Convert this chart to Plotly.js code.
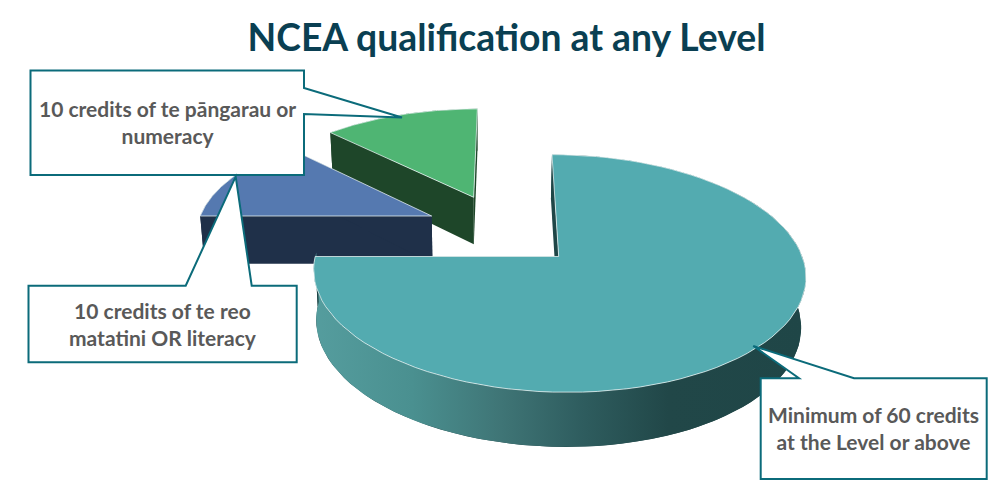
<!DOCTYPE html>
<html>
<head>
<meta charset="utf-8">
<script src="https://cdn.plot.ly/plotly-3.0.1.min.js"></script>
<style>html,body{margin:0;padding:0;background:#fff}#chart{width:1000px;height:490px}</style>
</head>
<body>
<div id="chart"></div>
<script>
// Data
const categories = ["Minimum of 60 credits<br>at the Level or above",
                    "10 credits of te reo<br>matatini OR literacy",
                    "10 credits of te pāngarau or<br>numeracy"];
const credits = [60, 10, 10];
const chartTitle = "NCEA qualification at any Level";

// Styling per slice
const topColors = ["#53abb0", "#5579b0", "#4fb573"];
const wallColors = ["#1f4647", "#1f3049", "#1e4629"];
const apexX = [558.7, 431.7, 473.7];   // exploded slice apex on the page
const apexY = [256.5, 216, 197.3];

// Perspective of the 3D pie
const vpX = 505, vpY = -559, horizon = 816, radius = 243.7, depth = 1 / 7;
const project = (X, Z) => [vpX + X / (1 + Z), vpY + horizon / (1 + Z)];
const lower = (p, Z) => [482 + (p[0] - 482) * 0.985, p[1] + 49.6 - 35 * Z];

function rimPoint(i, deg) {
  const Z0 = horizon / (apexY[i] - vpY) - 1;
  const X0 = (apexX[i] - vpX) * (1 + Z0);
  const t = deg * Math.PI / 180;
  const Z = Z0 + depth * Math.cos(t);
  return {p: project(X0 + radius * Math.sin(t), Z), Z};
}
function apexPoint(i) {
  const Z = horizon / (apexY[i] - vpY) - 1;
  return {p: [apexX[i], apexY[i]], Z};
}
function arc(i, a, b) {
  const out = [];
  for (let k = 0; k <= 90; k++) out.push(rimPoint(i, a + (b - a) * k / 90));
  return out;
}
function poly(pts, extra) {
  return Object.assign({
    type: "scatter", mode: "lines", fill: "toself", hoverinfo: "skip", showlegend: false,
    x: pts.map(p => p[0]), y: pts.map(p => p[1])
  }, extra);
}
const solid = (c) => ({fillcolor: c, line: {width: 0, color: c}});

// Angles from the values
const total = credits.reduce((a, b) => a + b, 0);
const starts = [], ends = [];
credits.reduce((acc, v, i) => { starts[i] = acc; ends[i] = acc + v / total * 360; return ends[i]; }, 0);

function sliceTraces(i) {
  const rim = arc(i, starts[i], ends[i]);
  const ap = apexPoint(i);
  const traces = [];
  const top = [ap.p].concat(rim.map(r => r.p));
  // every face of the solid in its wall colour (top covers those facing away)
  const rimBottom = rim.map(r => lower(r.p, r.Z));
  const apBottom = lower(ap.p, ap.Z);
  traces.push(poly(rim.map(r => r.p).concat(rimBottom.slice().reverse()), solid(wallColors[i])));
  const a = rim[0], b = rim[rim.length - 1];
  traces.push(poly([ap.p, a.p, lower(a.p, a.Z), apBottom], solid(wallColors[i])));
  traces.push(poly([ap.p, b.p, lower(b.p, b.Z), apBottom], solid(wallColors[i])));
  if (i === 0) {
    const front = arc(i, 45, 272);
    traces.push(poly(front.map(r => r.p).concat(front.map(r => lower(r.p, r.Z)).reverse()), {
      line: {width: 0},
      fillgradient: {type: "horizontal", colorscale: [
        [0, "#559d9e"], [0.2, "#4a9090"], [0.38, "#3f7576"], [0.55, "#2e5c5e"], [0.72, "#214748"], [1, "#1f4647"]
      ]}
    }));
  }
  traces.push(poly(top.concat([ap.p]), {fillcolor: topColors[i], line: {width: 1, color: "rgba(235,245,245,0.75)"}}));
  return traces;
}

const data = [].concat(sliceTraces(2), sliceTraces(1), sliceTraces(0));

const border = {color: "#0b6b7a", width: 2};
const callouts = [
  "M30.5,70.5 L304,70.5 L304,88 L402,117.5 L304,114 L304,175 L30.5,175 Z",
  "M28.5,285.7 L185.7,285.7 L235.7,176.7 L251.7,285.7 L296.7,285.7 L296.7,362.3 L28.5,362.3 Z",
  "M760.7,378.3 L799,378.3 L753.3,346 L854,378.3 L986.7,378.3 L986.7,479 L760.7,479 Z"
];
const labelX = [873.5, 163, 167.5], labelY = [428, 324, 122];

const layout = {
  width: 1000, height: 490,
  margin: {l: 0, r: 0, t: 0, b: 0},
  paper_bgcolor: "#fff", plot_bgcolor: "#fff",
  showlegend: false,
  title: {text: chartTitle, x: 0.5065, xanchor: "center", y: 0.923, yanchor: "middle", yref: "container",
          font: {family: "Lato, sans-serif", size: 37.3, color: "#0a3f52", weight: 700}},
  xaxis: {range: [0, 1000], visible: false, fixedrange: true},
  yaxis: {range: [490, 0], visible: false, fixedrange: true},
  shapes: callouts.map(path => ({type: "path", path, xref: "x", yref: "y", fillcolor: "#fff", line: border})),
  annotations: categories.map((text, i) => ({
    text, x: labelX[i], y: labelY[i], xref: "x", yref: "y", showarrow: false, align: "center",
    xanchor: "center", yanchor: "middle",
    font: {family: "Lato, sans-serif", size: 21, color: "#595959", weight: 700}
  }))
};
Plotly.newPlot("chart", data, layout, {displayModeBar: false, responsive: false});
</script>
</body>
</html>
